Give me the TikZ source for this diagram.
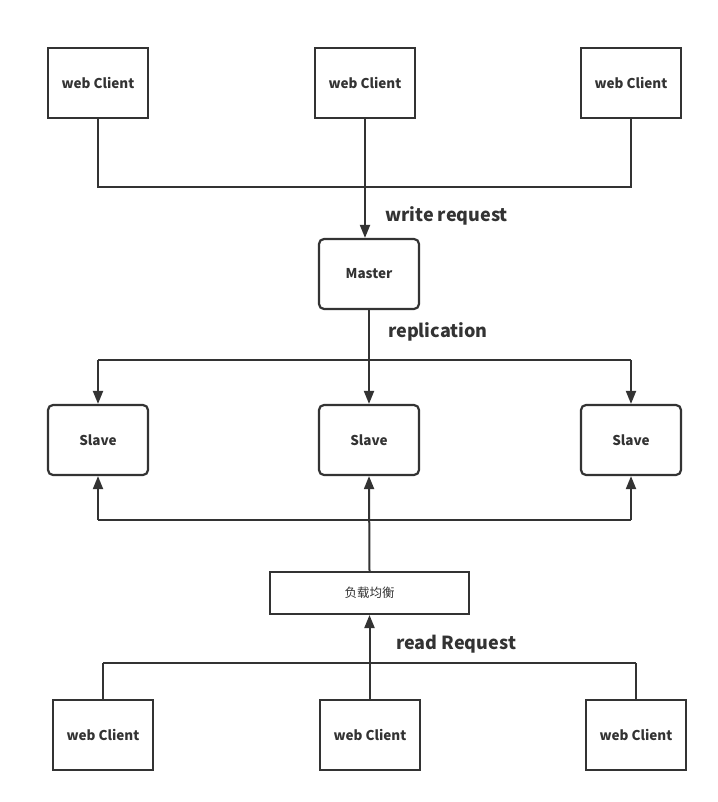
\documentclass[tikz,border=0pt]{standalone}
\usepackage{fontspec}
\setmainfont{Noto Sans CJK SC}
\usetikzlibrary{arrows.meta}
\definecolor{ink}{HTML}{333333}
\begin{document}
\begin{tikzpicture}[x=1pt,y=-1pt,
  box/.style={draw=ink,line width=2.2pt,minimum width=100pt,minimum height=70pt,inner sep=0pt,font=\fontsize{13.5}{15}\selectfont\bfseries,text=ink},
  rbox/.style={box,rounded corners=5pt},
  lbl/.style={font=\fontsize{18}{20}\selectfont\bfseries,text=ink,inner sep=0pt},
  wire/.style={draw=ink,line width=2pt},
  arr/.style={wire,-{Triangle[length=13pt,width=10pt]}}]
\useasboundingbox (0,0) rectangle (717,802);
% top clients
\node[box] (c1) at (98,83) {web Client};
\node[box] (c2) at (365,83) {web Client};
\node[box] (c3) at (631,83) {web Client};
\node[rbox] (m) at (369,274) {Master};
\node[rbox] (s1) at (98,440) {Slave};
\node[rbox] (s2) at (369,440) {Slave};
\node[rbox] (s3) at (631,440) {Slave};
\node[draw=ink,line width=2pt,minimum width=199pt,minimum height=42pt,inner sep=0pt,font=\fontsize{12.5}{14}\selectfont,text=ink] (lb) at (369.5,593) {负载均衡};
\node[box] (b1) at (103,735) {web Client};
\node[box] (b2) at (370,735) {web Client};
\node[box] (b3) at (636,735) {web Client};
\coordinate (j1) at (98,187);
\coordinate (j3) at (631,187);
\coordinate (r1) at (98,360);
\coordinate (r3) at (631,360);
\coordinate (u1) at (98,520);
\coordinate (u3) at (631,520);
\coordinate (d1) at (103,663);
\coordinate (d3) at (636,663);
% write
\draw[wire] (c1.south) -- (j1) -- (j3) -- (c3.south);
\draw[arr] (c2.south) -- (c2.south |- m.north);
\node[lbl,anchor=west] (wl) at (385,216) {write request};
% replication
\draw[arr] (m.south) -- (s2.north);
\draw[wire] (r1) -- (r3);
\draw[arr] (r1) -- (s1.north);
\draw[arr] (r3) -- (s3.north);
\node[lbl,anchor=west] (rl) at (388,332) {replication};
% read
\draw[arr] (u1) -- (s1.south);
\draw[arr] (u3) -- (s3.south);
\draw[wire] (u1) -- (u3);
\draw[arr] (lb.north) -- (s2.south);
\draw[wire] (d1) -- (d3);
\draw[wire] (b1.north) -- (d1);
\draw[wire] (b3.north) -- (d3);
\draw[arr] (b2.north -| lb.south) -- (lb.south);
\node[lbl,anchor=west] (rr) at (396,644) {read Request};
\end{tikzpicture}
\end{document}
